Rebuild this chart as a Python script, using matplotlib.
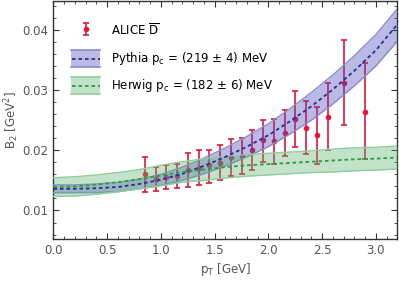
import numpy as np
import matplotlib
matplotlib.use("Agg")
from matplotlib import pyplot as plt
from matplotlib.legend_handler import HandlerBase
from matplotlib.patches import Rectangle
from matplotlib.lines import Line2D

# ALICE anti-D data (pT [GeV], B2 [GeV^2], lower / upper error bar ends)
pt_data = [0.85, 0.95, 1.05, 1.15, 1.25, 1.35, 1.45, 1.55, 1.65, 1.75,
           1.85, 1.95, 2.05, 2.15, 2.25, 2.35, 2.45, 2.55, 2.70, 2.90]
b2_data = [0.0160, 0.0152, 0.0156, 0.0158, 0.0168, 0.0171, 0.0175, 0.0179, 0.0189, 0.0191,
           0.0201, 0.0217, 0.0216, 0.0229, 0.0252, 0.0237, 0.0226, 0.0256, 0.0312, 0.0264]
b2_lo = [0.0130, 0.0132, 0.0136, 0.0137, 0.0139, 0.0143, 0.0145, 0.0151, 0.0158, 0.0160,
         0.0168, 0.0181, 0.0178, 0.0191, 0.0205, 0.0194, 0.0178, 0.0201, 0.0242, 0.0185]
b2_hi = [0.0189, 0.0173, 0.0176, 0.0177, 0.0196, 0.0200, 0.0201, 0.0208, 0.0218, 0.0221,
         0.0233, 0.0250, 0.0252, 0.0266, 0.0298, 0.0281, 0.0272, 0.0311, 0.0383, 0.0344]

# model curves
pt_curve = [0.0, 0.2, 0.4, 0.6, 0.8, 1.0, 1.2, 1.4, 1.6, 1.8, 2.0, 2.2, 2.4, 2.6, 2.8, 3.0, 3.2]
pythia_mid = [0.0136, 0.0136, 0.0137, 0.0139, 0.0144, 0.0151, 0.0161, 0.0174, 0.0189,
              0.0206, 0.0225, 0.0248, 0.0273, 0.0301, 0.0332, 0.0366, 0.0409]
pythia_lo = [0.01295, 0.01295, 0.0130, 0.01315, 0.0136, 0.0142, 0.0150, 0.0161, 0.0174,
             0.0189, 0.0206, 0.0227, 0.0250, 0.0277, 0.0307, 0.0340, 0.0381]
pythia_hi = [0.01425, 0.01425, 0.0144, 0.01465, 0.0152, 0.0160, 0.0172, 0.0187, 0.0204,
             0.0223, 0.0244, 0.0269, 0.0296, 0.0325, 0.0357, 0.0392, 0.0435]
herwig_mid = [0.0139, 0.0140, 0.0143, 0.0147, 0.0152, 0.0158, 0.0164, 0.0168, 0.0172,
              0.0175, 0.0177, 0.0179, 0.0181, 0.0183, 0.0185, 0.0186, 0.0188]
herwig_lo = [0.01235, 0.0124, 0.0127, 0.0131, 0.0136, 0.0141, 0.0147, 0.0150, 0.0154,
             0.0157, 0.0159, 0.0161, 0.0163, 0.0164, 0.0166, 0.0167, 0.0169]
herwig_hi = [0.01545, 0.0156, 0.0159, 0.0163, 0.0168, 0.0175, 0.0181, 0.0186, 0.0190,
             0.0193, 0.0195, 0.0197, 0.0199, 0.0202, 0.0204, 0.0205, 0.0207]

red = "#e3173d"
blue_fill, blue_edge, blue_line = "#4a4ab8", "#8a8ad0", "#2b2b9c"
green_fill, green_edge, green_line = "#5fb375", "#8fcc9e", "#2f9a45"
gray = "#555555"

plt.rcParams["font.family"] = "DejaVu Sans"
plt.rcParams["font.size"] = 8.5
plt.rcParams["mathtext.fontset"] = "dejavusans"


class BandHandler(HandlerBase):
    def __init__(self, fc, ec, lc):
        super().__init__()
        self.fc, self.ec, self.lc = fc, ec, lc

    def create_artists(self, legend, orig_handle, xdescent, ydescent, width, height, fontsize, trans):
        x0, y0 = -xdescent, -ydescent
        r = Rectangle((x0, y0), width, height, facecolor=self.fc, edgecolor="none", alpha=0.38, transform=trans)
        top = Line2D([x0, x0 + width], [y0 + height] * 2, color=self.ec, lw=1.2, transform=trans)
        bot = Line2D([x0, x0 + width], [y0] * 2, color=self.ec, lw=1.2, transform=trans)
        mid = Line2D([x0 + 1, x0 + width], [y0 + height / 2] * 2, color=self.lc, lw=1.3,
                     ls=(0, (2, 1.6)), transform=trans)
        return [r, top, bot, mid]


fig = plt.figure(figsize=(3.99, 2.81), dpi=100)
ax = fig.add_axes([0.134, 0.148, 0.862, 0.849])

eb = ax.errorbar(pt_data, b2_data,
                 yerr=[np.array(b2_data) - np.array(b2_lo), np.array(b2_hi) - np.array(b2_data)],
                 fmt="o", color=red, ms=3, elinewidth=1.2, capsize=2.5, capthick=1.2, zorder=2)

band_p = ax.fill_between(pt_curve, pythia_lo, pythia_hi, color=blue_fill, alpha=0.38, lw=0, zorder=3)
ax.plot(pt_curve, pythia_lo, color=blue_edge, lw=1.0, zorder=3)
ax.plot(pt_curve, pythia_hi, color=blue_edge, lw=1.0, zorder=3)
ax.plot(pt_curve, pythia_mid, color=blue_line, lw=1.3, ls=(0, (2, 1.6)), zorder=4)

band_h = ax.fill_between(pt_curve, herwig_lo, herwig_hi, color=green_fill, alpha=0.38, lw=0, zorder=3)
ax.plot(pt_curve, herwig_lo, color=green_edge, lw=1.0, zorder=3)
ax.plot(pt_curve, herwig_hi, color=green_edge, lw=1.0, zorder=3)
ax.plot(pt_curve, herwig_mid, color=green_line, lw=1.3, ls=(0, (2, 1.6)), zorder=4)

ax.set_xlim(0, 3.2)
ax.set_ylim(0.0052, 0.0448)
ax.set_xticks([0.0, 0.5, 1.0, 1.5, 2.0, 2.5, 3.0])
ax.set_xticks(np.arange(0, 3.21, 0.1), minor=True)
ax.set_yticks([0.01, 0.02, 0.03, 0.04])
ax.set_yticks(np.arange(0.006, 0.0449, 0.002), minor=True)
ax.tick_params(which="both", direction="in", top=True, right=True, colors="#333333", labelcolor=gray)
ax.tick_params(which="major", length=4, width=0.8)
ax.tick_params(which="minor", length=2, width=0.6)
for s in ax.spines.values():
    s.set_color("#333333")
    s.set_linewidth(1.0)

ax.set_xlabel(r"p$_\mathrm{T}$ [GeV]", color=gray, labelpad=3)
ax.set_ylabel(r"B$_2$ [GeV$^2$]", color=gray, labelpad=1.5)

ax.legend([eb, band_p, band_h],
          [r"ALICE $\overline{\mathrm{D}}$", r"Pythia p$_\mathrm{c}$ = (219 $\pm$ 4) MeV",
           r"Herwig p$_\mathrm{c}$ = (182 $\pm$ 6) MeV"],
          handler_map={band_p: BandHandler(blue_fill, blue_edge, blue_line),
                       band_h: BandHandler(green_fill, green_edge, green_line)},
          loc="upper left", bbox_to_anchor=(0.02, 0.955), frameon=False,
          handlelength=2.5, handleheight=1.9, labelspacing=0.82, handletextpad=0.9)

plt.savefig("out.png", dpi=100)
